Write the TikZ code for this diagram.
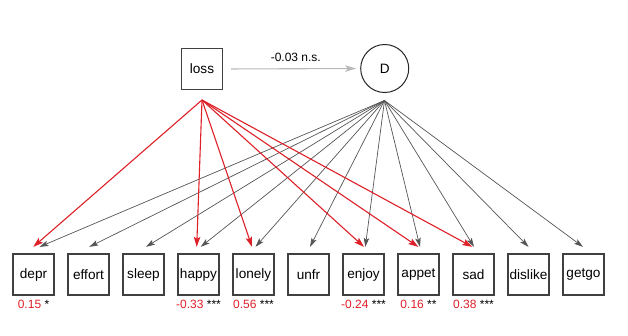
\documentclass[tikz,border=0pt]{standalone}
\usepackage{fontspec}
\setmainfont{Liberation Sans}
\usetikzlibrary{arrows.meta}
\definecolor{boxgray}{RGB}{64,64,64}
\definecolor{edgered}{RGB}{222,32,40}
\definecolor{edgegray}{RGB}{85,85,85}
\definecolor{lightedge}{RGB}{185,185,185}
\begin{document}
\begin{tikzpicture}[x=1pt,y=-1pt,
  obs/.style={draw=boxgray,line width=1.3pt,rectangle,minimum size=41pt,inner sep=0pt,
    font=\fontsize{13.6}{15}\selectfont},
  lat/.style={draw=black!85,line width=1pt,circle,minimum size=48pt,inner sep=0pt,
    font=\fontsize{13.6}{15}\selectfont},
  redarr/.style={draw=edgered,line width=1.1pt,-{Stealth[length=10pt,width=6.5pt,inset=2pt]}},
  grayarr/.style={draw=edgegray,line width=0.7pt,-{Stealth[length=9pt,width=5.5pt,inset=2pt]}},
  lab/.style={font=\fontsize{12}{14}\selectfont,inner sep=0pt}]
\useasboundingbox (0,0) rectangle (628,335);
% latent / exogenous
\node[obs] (loss) at (202,69) {loss};
\node[lat] (D) at (384.7,68.5) {D};
\coordinate (lossout) at (202,100);
\coordinate (Dout) at (384.5,100.5);
% indicators
\foreach \n/\t [count=\i from 0] in {depr/depr,effort/effort,sleep/sleep,happy/happy,lonely/lonely,unfr/unfr,enjoy/enjoy,appet/appet,sad/sad,dislike/dislike,getgo/getgo}{
  \node[obs] (\n) at (33.5+55*\i,274.5) {\t};
}
% loss -> D
\draw[draw=lightedge,line width=1.1pt,-{Stealth[length=11pt,width=6.5pt,inset=2.5pt]},shorten <=8pt,shorten >=4pt]
  (loss.east) -- node[lab,above=7pt,pos=0.53] {-0.03 n.s.} (D.west);
% D -> indicators
\foreach \n/\dx in {depr/6,effort/0.8,sleep/2.5,happy/2.2,lonely/2,unfr/1.5,enjoy/1.8,appet/1.5,sad/0.5,dislike/0,getgo/-0.5}{
  \draw[grayarr] (Dout) -- ([xshift=\dx pt,yshift=6.5pt]\n.north);
}
% loss -> indicators
\foreach \n/\dx in {depr/-0.2,happy/-1.8,lonely/-1.5,enjoy/0.5,appet/-0.2,sad/-1.2}{
  \draw[redarr] (lossout) -- ([xshift=\dx pt,yshift=6.5pt]\n.north);
}
% loadings
\foreach \n/\v/\s in {depr/0.15/*,happy/-0.33/***,lonely/0.56/***,enjoy/-0.24/***,appet/0.16/**,sad/0.38/***}{
  \node[lab,anchor=north] at ([yshift=-3pt]\n.south) {\textcolor{edgered}{\v}\strut\ \s};
}
\end{tikzpicture}
\end{document}
